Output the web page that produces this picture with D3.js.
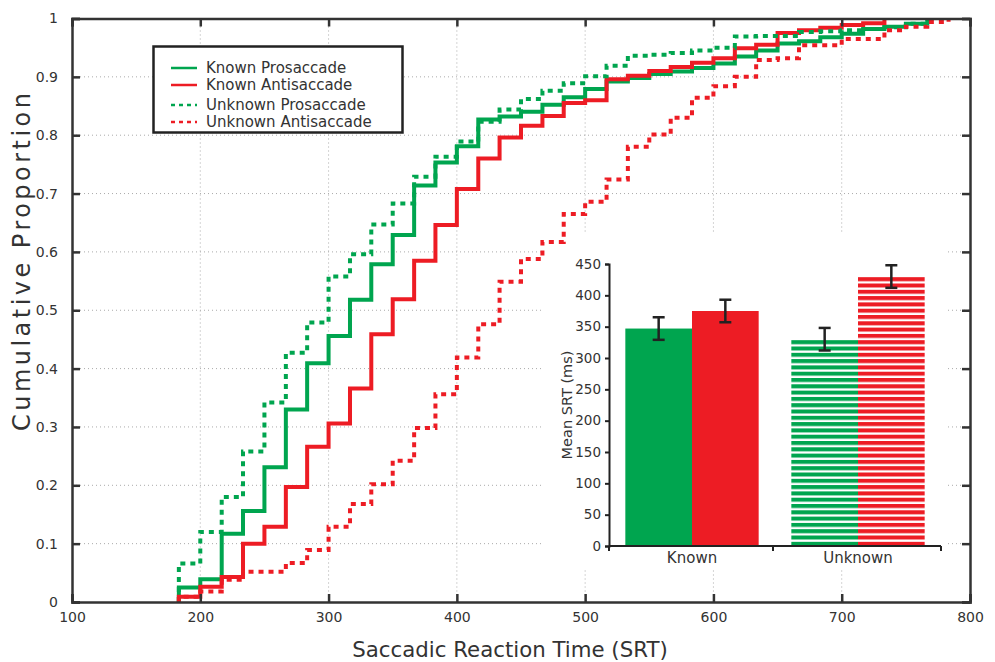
<!DOCTYPE html>
<html>
<head>
  <meta charset="utf-8">
  <title>Saccadic Reaction Time CDF</title>
  <script src="https://d3js.org/d3.v7.min.js"></script>
  <style>
    body { margin: 0; background: #fff; }
    text { font-family: "DejaVu Sans", Verdana, sans-serif; fill: #333; }
  </style>
</head>
<body>
  <script>
    // SRT bins (ms, one video frame apart) where the cumulative curves step
    const srtBins = [183.3, 200, 216.7, 233.3, 250, 266.7, 283.3, 300, 316.7, 333.3,
      350, 366.7, 383.3, 400, 416.7, 433.3, 450, 466.7, 483.3, 500,
      516.7, 533.3, 550, 566.7, 583.3, 600, 616.7, 633.3, 650, 666.7,
      683.3, 700, 716.7, 733.3, 750, 766.7, 783.3];

    // cumulative proportion reached at each bin
    const knownPro = [0.025, 0.039, 0.117, 0.156, 0.231, 0.330, 0.409, 0.456, 0.518, 0.579,
      0.629, 0.714, 0.753, 0.781, 0.827, 0.832, 0.840, 0.852, 0.865, 0.879,
      0.892, 0.898, 0.905, 0.909, 0.915, 0.923, 0.935, 0.945, 0.957, 0.961,
      0.968, 0.974, 0.982, 0.986, 0.991, 1.0, 1.0];
    const knownAnti = [0.009, 0.026, 0.043, 0.100, 0.129, 0.197, 0.266, 0.306, 0.366, 0.459,
      0.519, 0.585, 0.646, 0.708, 0.760, 0.796, 0.816, 0.833, 0.855, 0.860,
      0.896, 0.902, 0.910, 0.917, 0.924, 0.932, 0.949, 0.955, 0.975, 0.980,
      0.984, 0.989, 0.992, 1.0, 1.0, 1.0, 1.0];
    const unknownPro = [0.066, 0.120, 0.180, 0.258, 0.342, 0.427, 0.479, 0.558, 0.596, 0.647,
      0.683, 0.729, 0.763, 0.789, 0.823, 0.844, 0.862, 0.876, 0.889, 0.901,
      0.919, 0.936, 0.938, 0.941, 0.945, 0.950, 0.969, 0.970, 0.970, 0.977,
      0.978, 0.980, 0.982, 0.985, 0.991, 1.0, 1.0];
    const unknownAnti = [0.009, 0.018, 0.038, 0.052, 0.052, 0.067, 0.089, 0.129, 0.168, 0.202,
      0.242, 0.298, 0.356, 0.419, 0.476, 0.549, 0.588, 0.617, 0.665, 0.686,
      0.724, 0.780, 0.801, 0.830, 0.864, 0.884, 0.900, 0.929, 0.932, 0.954,
      0.954, 0.965, 0.965, 0.980, 0.986, 0.994, 1.0];

    const seriesNames = ["Known Prosaccade", "Known Antisaccade", "Unknown Prosaccade", "Unknown Antisaccade"];

    // inset bar chart
    const groups = ["Known", "Unknown"];
    const conditions = ["Prosaccade", "Antisaccade"];
    const meanKnown = [347, 375];
    const meanUnknown = [330, 430];
    const errKnown = [18, 18];
    const errUnknown = [18, 18];

    const xTicks = [100, 200, 300, 400, 500, 600, 700, 800];
    const yTicks = [0, 0.1, 0.2, 0.3, 0.4, 0.5, 0.6, 0.7, 0.8, 0.9, 1];
    const barTicks = [0, 50, 100, 150, 200, 250, 300, 350, 400, 450];

    const green = "#00a54f";
    const red = "#ed1c24";

    const width = 995, height = 662;
    const plotL = 72, plotR = 970, plotT = 18.5, plotB = 602;

    const svg = d3.select("body").append("svg")
      .attr("width", width)
      .attr("height", height);

    const x = d3.scaleLinear().domain([100, 800]).range([plotL, plotR]);
    const y = d3.scaleLinear().domain([0, 1]).range([plotB, plotT]);

    // dotted grid
    const grid = svg.append("g").attr("class", "grid");
    grid.selectAll(".gx").data(xTicks.slice(1, -1)).enter().append("line")
      .attr("x1", d => x(d)).attr("x2", d => x(d))
      .attr("y1", plotT).attr("y2", plotB);
    grid.selectAll(".gy").data(yTicks.slice(1, -1)).enter().append("line")
      .attr("x1", plotL).attr("x2", plotR)
      .attr("y1", d => y(d)).attr("y2", d => y(d));
    grid.selectAll("line")
      .attr("stroke", "#aaa")
      .attr("stroke-width", 1)
      .attr("stroke-dasharray", "1,3");

    // white panel of the inset hides the grid behind it
    svg.append("rect")
      .attr("x", 541).attr("y", 234)
      .attr("width", 407).attr("height", 336)
      .attr("fill", "#fff");

    // step curves
    const styles = [
      { vals: knownPro, color: green, dash: null },
      { vals: knownAnti, color: red, dash: null },
      { vals: unknownPro, color: green, dash: "5,5" },
      { vals: unknownAnti, color: red, dash: "5,5" }
    ];

    const line = d3.line()
      .x(d => x(d.srt))
      .y(d => y(d.p))
      .curve(d3.curveStepAfter);

    styles.forEach(s => {
      const pts = [{ srt: srtBins[0], p: 0 }];
      for (let i = 0; i < srtBins.length; i++) {
        pts.push({ srt: srtBins[i], p: s.vals[i] });
        if (s.vals[i] >= 1) break;
      }
      svg.append("path")
        .datum(pts)
        .attr("d", line)
        .attr("fill", "none")
        .attr("stroke", s.color)
        .attr("stroke-width", 4)
        .attr("stroke-dasharray", s.dash);
    });

    // frame with inward ticks
    const fmtY = d => d3.format(".1~f")(d);
    svg.append("g")
      .attr("transform", `translate(0,${plotB})`)
      .call(d3.axisBottom(x).tickValues(xTicks).tickSize(-8).tickPadding(10));
    svg.append("g")
      .attr("transform", `translate(0,${plotT})`)
      .call(d3.axisTop(x).tickValues(xTicks).tickSize(-8).tickFormat(""));
    svg.append("g")
      .attr("transform", `translate(${plotL},0)`)
      .call(d3.axisLeft(y).tickValues(yTicks).tickSize(-8).tickPadding(14).tickFormat(fmtY));
    svg.append("g")
      .attr("transform", `translate(${plotR},0)`)
      .call(d3.axisRight(y).tickValues(yTicks).tickSize(-8).tickFormat(""));
    svg.selectAll(".domain, .tick line")
      .attr("stroke", "#333")
      .attr("stroke-width", 2.5);
    svg.selectAll(".tick text")
      .attr("font-size", 14)
      .attr("font-family", "DejaVu Sans, sans-serif")
      .attr("fill", "#333");

    // axis titles
    svg.append("text")
      .attr("x", 510)
      .attr("y", 657)
      .attr("text-anchor", "middle")
      .attr("font-size", 21.3)
      .text("Saccadic Reaction Time (SRT)");
    svg.append("text")
      .attr("transform", "translate(30,262) rotate(-90)")
      .attr("text-anchor", "middle")
      .attr("font-size", 24)
      .attr("textLength", 338)
      .attr("lengthAdjust", "spacing")
      .text("Cumulative Proportion");

    // legend
    const leg = svg.append("g");
    leg.append("rect")
      .attr("x", 153.5).attr("y", 46.5)
      .attr("width", 249).attr("height", 86)
      .attr("fill", "#fff")
      .attr("stroke", "#222")
      .attr("stroke-width", 2.5);
    const legY = [68, 85, 105, 122];
    seriesNames.forEach((name, i) => {
      leg.append("line")
        .attr("x1", 171).attr("x2", 197)
        .attr("y1", legY[i]).attr("y2", legY[i])
        .attr("stroke", styles[i].color)
        .attr("stroke-width", 2.5)
        .attr("stroke-dasharray", styles[i].dash ? "4,4" : null);
      leg.append("text")
        .attr("x", 206)
        .attr("y", legY[i] + 5)
        .attr("font-size", 15)
        .text(name);
    });

    // inset bar chart
    const inset = svg.append("g");

    const defs = svg.append("defs");
    [["hatch-green", green], ["hatch-red", red]].forEach(([id, c]) => {
      const p = defs.append("pattern")
        .attr("id", id)
        .attr("patternUnits", "userSpaceOnUse")
        .attr("width", 10).attr("height", 6.3);
      p.append("rect").attr("width", 10).attr("height", 6.3).attr("fill", "#fff");
      p.append("rect").attr("width", 10).attr("height", 4).attr("fill", c);
    });

    const yb = d3.scaleLinear().domain([0, 450]).range([546, 264]);
    const xg = d3.scaleBand().domain(groups).range([609, 941]);
    const xs = d3.scaleBand().domain(conditions).range([0, xg.bandwidth()])
      .paddingInner(0).paddingOuter(0.245);

    const barData = [];
    groups.forEach((g, gi) => {
      const means = gi === 0 ? meanKnown : meanUnknown;
      const errs = gi === 0 ? errKnown : errUnknown;
      conditions.forEach((c, ci) => {
        barData.push({ group: g, cond: c, mean: means[ci], err: errs[ci], hatched: gi === 1 });
      });
    });

    const bar = inset.selectAll(".bar").data(barData).enter().append("g")
      .attr("transform", d => `translate(${xg(d.group) + xs(d.cond)},0)`);
    bar.append("rect")
      .attr("x", 0)
      .attr("width", xs.bandwidth())
      .attr("y", d => yb(d.mean))
      .attr("height", d => yb(0) - yb(d.mean))
      .attr("fill", d => {
        const c = d.cond === "Prosaccade" ? "green" : "red";
        return d.hatched ? `url(#hatch-${c})` : (c === "green" ? green : red);
      });

    const cx = xs.bandwidth() / 2;
    bar.append("line")
      .attr("x1", cx).attr("x2", cx)
      .attr("y1", d => yb(d.mean - d.err))
      .attr("y2", d => yb(d.mean + d.err));
    bar.append("line")
      .attr("x1", cx - 6).attr("x2", cx + 6)
      .attr("y1", d => yb(d.mean - d.err))
      .attr("y2", d => yb(d.mean - d.err));
    bar.append("line")
      .attr("x1", cx - 6).attr("x2", cx + 6)
      .attr("y1", d => yb(d.mean + d.err))
      .attr("y2", d => yb(d.mean + d.err));
    bar.selectAll("line")
      .attr("stroke", "#222")
      .attr("stroke-width", 2.5);

    const yAxisB = inset.append("g")
      .attr("transform", "translate(609,0)")
      .call(d3.axisLeft(yb).tickValues(barTicks).tickSize(4).tickPadding(4));
    const xAxisB = inset.append("g")
      .attr("transform", "translate(0,546)")
      .call(d3.axisBottom(xg).tickSize(0).tickPadding(6));
    // group boundary ticks
    inset.selectAll(".gtick").data([609, 773, 941]).enter().append("line")
      .attr("x1", d => d).attr("x2", d => d)
      .attr("y1", 546).attr("y2", 551)
      .attr("stroke", "#222").attr("stroke-width", 2);
    inset.selectAll(".domain, .tick line")
      .attr("stroke", "#222")
      .attr("stroke-width", 2);
    xAxisB.select(".domain").attr("d", "M609,0H941");
    yAxisB.selectAll(".tick text").attr("font-size", 13.5).attr("font-family", "DejaVu Sans, sans-serif");
    xAxisB.selectAll(".tick text").attr("font-size", 15).attr("font-family", "DejaVu Sans, sans-serif");

    inset.append("text")
      .attr("transform", "translate(572,405) rotate(-90)")
      .attr("text-anchor", "middle")
      .attr("font-size", 14.5)
      .text("Mean SRT (ms)");
  </script>
</body>
</html>
